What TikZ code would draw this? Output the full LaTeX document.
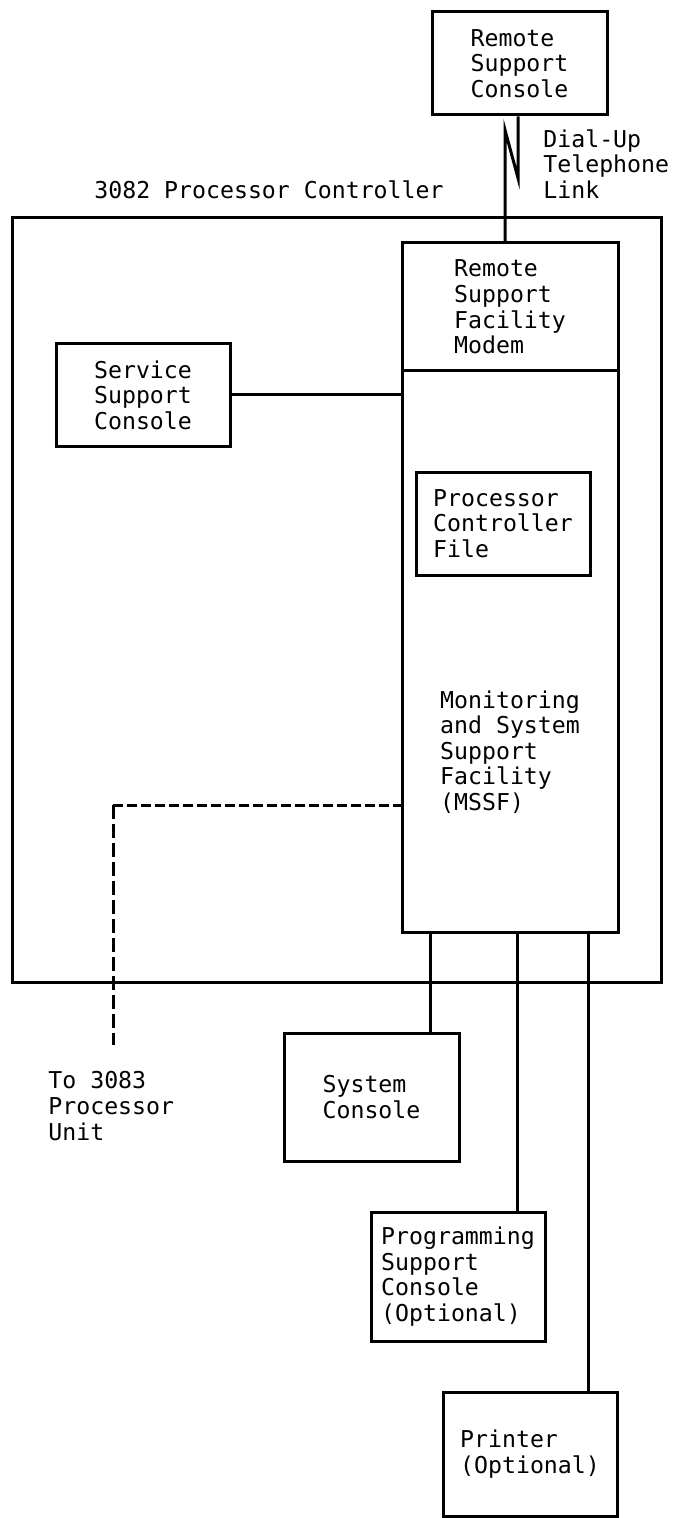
\documentclass[tikz,border=0pt]{standalone}
\usepackage{fontspec}
\setmonofont{DejaVu Sans Mono}
\begin{document}
\begin{tikzpicture}[x=0.5pt,y=-0.5pt,
  every node/.style={font=\ttfamily\fontsize{11.6}{12.8}\selectfont},
  box/.style={draw, line width=1.5pt, inner sep=0pt, align=left},
  conn/.style={line width=1.5pt},
  hdash/.style={line width=1.5pt, dash pattern=on 5pt off 2pt},
  vdash/.style={line width=1.5pt, dash pattern=on 7pt off 2.5pt},
  lbl/.style={inner sep=0pt, align=left, anchor=west}]
\useasboundingbox (0,0) rectangle (674,1518);
% boxes
\node[box, minimum width=87.5pt, minimum height=51.5pt] (rsc) at (519.5,63.5) {Remote\\Support\\Console};
\node[box, minimum width=324.5pt, minimum height=382pt] (pc) at (336.5,600) {};
\node[box, minimum width=108pt, minimum height=64pt] (mod) at (510,307) {Remote\\Support\\Facility\\Modem};
\node[box, minimum width=108pt, minimum height=280.5pt] (mssf) at (510,651.5) {};
\node[lbl, anchor=center] (mssft) at (510,752) {Monitoring\\and System\\Support\\Facility\\(MSSF)};
\node[box, minimum width=87pt, minimum height=51pt] (ssc) at (143,395) {Service\\Support\\Console};
\node[box, minimum width=87pt, minimum height=51.5pt] (pcf) at (503,523.5) {Processor\\Controller\\File};
\node[box, minimum width=87.5pt, minimum height=64pt] (sys) at (371.5,1097) {System\\Console};
\node[box, minimum width=87pt, minimum height=64.5pt] (psc) at (458,1276.5) {Programming\\Support\\Console\\(Optional)};
\node[box, minimum width=87pt, minimum height=62pt] (prt) at (530,1454) {Printer\\(Optional)};
% labels
\node[lbl] (pctitle) at (94,190) {3082 Processor Controller};
\node[lbl] (dial) at (543,164) {Dial-Up\\Telephone\\Link};
\node[lbl] (to) at (48,1106) {To 3083\\Processor\\Unit};
% connectors
\coordinate (z1) at (518,178);
\coordinate (z2) at (505,130);
\draw[conn] (z1 |- rsc.south) -- (z1) -- (z2) -- (z2 |- mod.north);
\draw[conn] (ssc.east) -- (ssc.east -| mod.west);
\coordinate (d1) at (113,805);
\coordinate (d2) at (113,1045);
\draw[hdash] (d1) -- (d1 -| mssf.west);
\draw[vdash] (d1) -- (d2);
\coordinate (l1) at (430,0);
\coordinate (l2) at (517,0);
\coordinate (l3) at (588,0);
\draw[conn] (l1 |- mssf.south) -- (l1 |- sys.north);
\draw[conn] (l2 |- mssf.south) -- (l2 |- psc.north);
\draw[conn] (l3 |- mssf.south) -- (l3 |- prt.north);
\end{tikzpicture}
\end{document}
